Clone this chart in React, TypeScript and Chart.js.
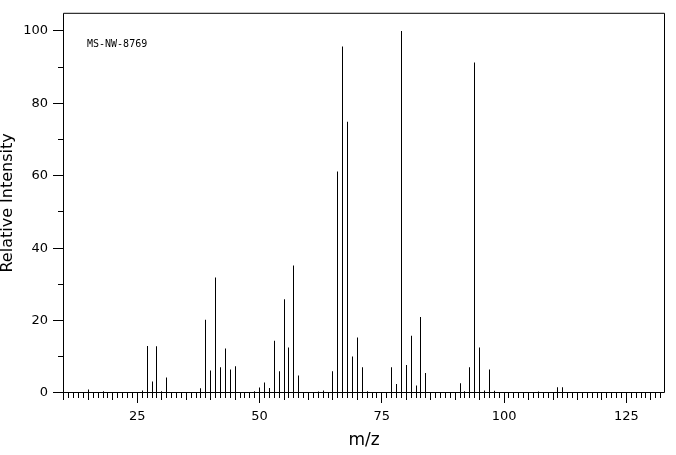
import { useEffect, useRef } from 'react';
import { Chart, registerables } from 'chart.js';

Chart.register(...registerables);

// m/z positions and relative intensities
const mzValues = [
  14, 15, 18, 19, 26, 27, 28, 29, 30, 31, 37, 38, 39, 40, 41, 42, 43, 44, 45, 46,
  47, 48, 49, 50, 51, 52, 53, 54, 55, 56, 57, 58, 59, 61, 62, 63, 64, 65, 66, 67,
  68, 69, 70, 71, 72, 74, 77, 78, 79, 80, 81, 82, 83, 84, 85, 89, 91, 92, 93, 94,
  95, 96, 97, 98, 107, 108, 109, 110, 111, 112, 113, 129,
];
const intensities = [
  0.3, 1.0, 0.5, 0.3, 0.7, 13.0, 3.2, 12.9, 0.5, 4.3, 0.3, 1.3, 20.2, 6.2, 31.9, 7.1, 12.3, 6.5, 7.4, 0.3,
  0.3, 0.3, 0.5, 1.5, 2.9, 1.4, 14.4, 6.0, 25.9, 12.6, 35.2, 4.8, 0.2, 0.2, 0.4, 0.7, 0.2, 6.0, 61.2, 95.7,
  74.9, 10.1, 15.3, 7.1, 0.5, 0.3, 7.1, 2.5, 100, 7.7, 15.8, 2.1, 21.0, 5.5, 0.3, 0.3, 2.7, 0.5, 7.1, 91.3,
  12.6, 0.7, 6.5, 0.6, 0.4, 0.3, 0.3, 0.3, 1.6, 1.6, 0.3, 0.3,
];
const xTickLabels = [25, 50, 75, 100, 125];
const yTickLabels = [0, 20, 40, 60, 80, 100];
const xMinorStep = 1;
const xMediumStep = 5;
const yMinorStep = 10;
const sampleId = 'MS-NW-8769';
const xTitle = 'm/z';
const yTitle = 'Relative Intensity';

// snap bar centres to pixel centres so the 1px stems render crisp
const crispBarsPlugin = {
  id: 'crispBars',
  beforeDatasetsDraw(chart: any) {
    chart.getSortedVisibleDatasetMetas().forEach((meta: any) => {
      meta.data.forEach((el: any) => {
        el.x = Math.round(el.x - 0.5) + 0.5;
      });
    });
  },
};

const framePlugin = {
  id: 'frameTicks',
  afterDraw(chart: any) {
    const { ctx, chartArea, scales } = chart;
    const { left, top, right, bottom } = chartArea;
    const x = scales.x;
    const y = scales.y;
    ctx.save();
    ctx.strokeStyle = '#000';
    ctx.lineWidth = 1;
    ctx.beginPath();
    ctx.rect(left + 0.5, top + 0.5, right - left - 1, bottom - top - 1);
    for (let m = Math.ceil(x.min); m <= Math.floor(x.max); m += xMinorStep) {
      const px = Math.round(x.getPixelForValue(m) - 0.5) + 0.5;
      const len = xTickLabels.includes(m) ? 11 : m % xMediumStep === 0 ? 8 : 6;
      ctx.moveTo(px, bottom - 1);
      ctx.lineTo(px, bottom - 1 + len);
    }
    for (let v = 0; v <= 100; v += yMinorStep) {
      const py = Math.ceil(y.getPixelForValue(v) - 1) + 0.5;
      const len = yTickLabels.includes(v) ? 10 : 5;
      ctx.moveTo(left, py);
      ctx.lineTo(left - len, py);
    }
    ctx.stroke();
    ctx.fillStyle = '#000';
    ctx.font = '10px "DejaVu Sans Mono"';
    ctx.textBaseline = 'middle';
    ctx.textAlign = 'left';
    ctx.fillText(sampleId, left + 24, top + 32);
    ctx.restore();
  },
};

export default function App() {
  const ref = useRef<HTMLCanvasElement | null>(null);
  useEffect(() => {
    if (!ref.current) return;
    const chart = new Chart(ref.current, {
      type: 'bar',
      data: {
        datasets: [
          {
            data: mzValues.map((m, i) => ({ x: m, y: intensities[i] })),
            backgroundColor: '#000',
            borderWidth: 0,
            inflateAmount: 0,
            barThickness: 1,
          },
        ],
      },
      options: {
        animation: false,
        responsive: false,
        maintainAspectRatio: false,
        layout: { padding: { top: 9, right: 11, left: 0, bottom: 0 } },
        plugins: { legend: { display: false }, tooltip: { enabled: false } },
        scales: {
          x: {
            type: 'linear',
            min: 9.8,
            max: 132.9,
            offset: false,
            afterFit: (s: any) => { s.height = 62; },
            grid: { display: true, drawOnChartArea: false, drawTicks: true, tickLength: 10, color: 'rgba(0,0,0,0)', offset: false },
            border: { display: false },
            ticks: {
              stepSize: 25,
              includeBounds: false,
              autoSkip: false,
              maxRotation: 0,
              padding: 6,
              color: '#000',
              font: { family: 'DejaVu Sans', size: 13 },
              callback: (v: any) => (xTickLabels.includes(Number(v)) ? String(v) : ''),
            },
            title: {
              display: true,
              text: xTitle,
              color: '#000',
              font: { family: 'DejaVu Sans', size: 17, lineHeight: 1 },
              padding: { top: 6, bottom: 6 },
            },
          },
          y: {
            min: 0,
            max: 105,
            afterFit: (s: any) => { s.width = 63; },
            grid: { display: true, drawOnChartArea: false, drawTicks: true, tickLength: 10, color: 'rgba(0,0,0,0)' },
            border: { display: false },
            ticks: {
              stepSize: 20,
              includeBounds: false,
              autoSkip: false,
              padding: 5,
              color: '#000',
              font: { family: 'DejaVu Sans', size: 13 },
              callback: (v: any) => (yTickLabels.includes(Number(v)) ? String(v) : ''),
            },
            title: {
              display: true,
              text: yTitle,
              color: '#000',
              font: { family: 'DejaVu Sans', size: 16, lineHeight: 1 },
              padding: { top: 0, bottom: 0 },
            },
          },
        },
      },
      plugins: [crispBarsPlugin, framePlugin],
    } as any);
    return () => chart.destroy();
  }, []);
  return (
    <div style={{ position: 'fixed', left: 0, top: 0, width: 676, height: 455, background: '#fff' }}>
      <canvas ref={ref} width={676} height={455} style={{ display: 'block' }} />
    </div>
  );
}
